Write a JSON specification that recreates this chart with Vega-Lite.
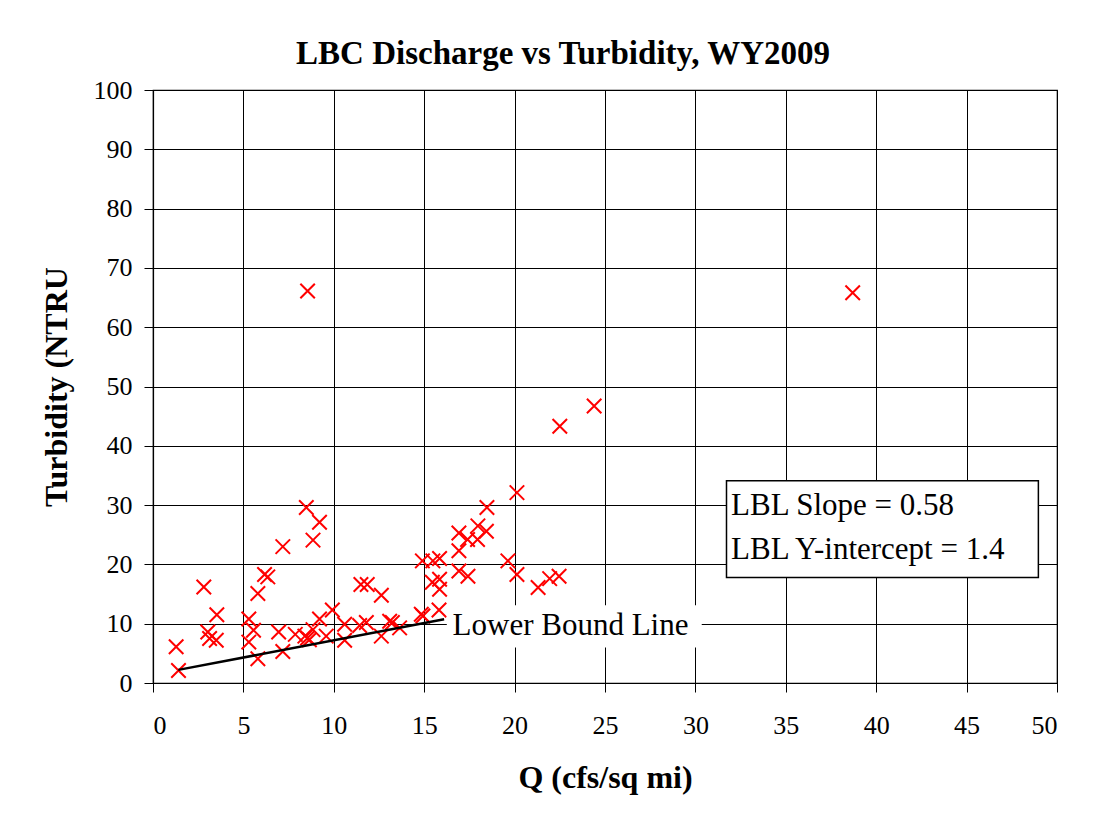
{
  "$schema": "https://vega.github.io/schema/vega-lite/v6.json",
  "autosize": {"type": "none"},
  "width": 904,
  "height": 593,
  "padding": {"left": 153, "top": 90, "right": 54, "bottom": 146},
  "background": "white",
  "config": {
    "font": "Liberation Serif",
    "view": {"stroke": "black", "strokeWidth": 1.2},
    "axis": {
      "domainColor": "black",
      "domainWidth": 1.2,
      "gridColor": "black",
      "gridWidth": 1,
      "gridOpacity": 1,
      "tickColor": "black",
      "tickSize": 9,
      "tickWidth": 1,
      "labelFont": "Liberation Serif",
      "labelFontSize": 26,
      "labelColor": "black",
      "titleFont": "Liberation Serif",
      "titleFontSize": 32,
      "titleFontWeight": "bold",
      "titleColor": "black"
    },
    "axisX": {"labelPadding": 20, "titlePadding": 24},
    "axisY": {"labelPadding": 12, "titlePadding": 20}
  },
  "title": {
    "text": "LBC Discharge vs Turbidity, WY2009",
    "fontSize": 33,
    "fontWeight": "bold",
    "font": "Liberation Serif",
    "color": "black",
    "anchor": "middle",
    "dx": -42,
    "offset": 6
  },
  "datasets": {
    "obs": [
      {"Q": 1.28, "T": 6.1}, {"Q": 1.41, "T": 2.1}, {"Q": 2.81, "T": 16.2}, {"Q": 3.03, "T": 8.6},
      {"Q": 3.13, "T": 7.5}, {"Q": 3.5, "T": 7.2}, {"Q": 3.53, "T": 11.5}, {"Q": 5.3, "T": 10.8},
      {"Q": 5.3, "T": 6.9}, {"Q": 5.56, "T": 8.9}, {"Q": 5.8, "T": 15.1}, {"Q": 5.8, "T": 4.1},
      {"Q": 6.17, "T": 18.3}, {"Q": 6.35, "T": 17.9}, {"Q": 6.95, "T": 8.6}, {"Q": 7.18, "T": 23.0},
      {"Q": 7.18, "T": 5.3}, {"Q": 7.87, "T": 8.2}, {"Q": 8.4, "T": 7.9}, {"Q": 8.55, "T": 7.6},
      {"Q": 8.65, "T": 7.3}, {"Q": 8.48, "T": 29.6}, {"Q": 8.55, "T": 66.1}, {"Q": 8.85, "T": 24.1},
      {"Q": 8.85, "T": 9.0}, {"Q": 9.21, "T": 27.1}, {"Q": 9.21, "T": 10.8}, {"Q": 9.58, "T": 7.9},
      {"Q": 9.92, "T": 12.3}, {"Q": 10.6, "T": 9.9}, {"Q": 10.6, "T": 7.2}, {"Q": 11.43, "T": 9.7},
      {"Q": 11.8, "T": 10.2}, {"Q": 11.5, "T": 16.6}, {"Q": 11.85, "T": 16.6}, {"Q": 12.63, "T": 14.8},
      {"Q": 12.63, "T": 7.9}, {"Q": 13.09, "T": 10.4}, {"Q": 13.24, "T": 10.2}, {"Q": 13.64, "T": 9.3},
      {"Q": 14.84, "T": 11.6}, {"Q": 14.93, "T": 11.3}, {"Q": 14.9, "T": 20.6}, {"Q": 15.48, "T": 20.6},
      {"Q": 15.85, "T": 21.0}, {"Q": 15.45, "T": 17.0}, {"Q": 15.85, "T": 17.5}, {"Q": 15.85, "T": 15.8},
      {"Q": 15.82, "T": 12.3}, {"Q": 16.92, "T": 25.3}, {"Q": 16.92, "T": 22.3}, {"Q": 16.92, "T": 18.9},
      {"Q": 17.4, "T": 24.2}, {"Q": 17.42, "T": 18.0}, {"Q": 17.95, "T": 24.2}, {"Q": 17.97, "T": 26.5},
      {"Q": 18.44, "T": 25.6}, {"Q": 18.47, "T": 29.6}, {"Q": 19.63, "T": 20.6}, {"Q": 20.13, "T": 18.3},
      {"Q": 20.13, "T": 32.1}, {"Q": 21.3, "T": 16.1}, {"Q": 21.94, "T": 17.6}, {"Q": 22.46, "T": 18.0},
      {"Q": 22.5, "T": 43.3}, {"Q": 24.4, "T": 46.7}, {"Q": 38.7, "T": 65.8}
    ],
    "lbl": [
      {"Q": 1.4, "T": 2.21},
      {"Q": 16.1, "T": 10.74}
    ],
    "labelBox": [
      {"Q": 16.25, "Q2": 30.35, "T": 6.0, "T2": 13.1}
    ],
    "labelText": [
      {"Q": 16.57, "T": 9.6, "text": "Lower Bound Line"}
    ],
    "legendBox": [
      {"Q": 31.72, "Q2": 48.97, "T": 17.77, "T2": 34.09}
    ],
    "legendText": [
      {"Q": 31.97, "T": 29.8, "text": "LBL Slope = 0.58"},
      {"Q": 31.97, "T": 22.4, "text": "LBL Y-intercept = 1.4"}
    ]
  },
  "encoding": {
    "x": {
      "field": "Q",
      "type": "quantitative",
      "scale": {"domain": [0, 50], "nice": false, "zero": false},
      "axis": {"values": [0, 5, 10, 15, 20, 25, 30, 35, 40, 45, 50], "title": "Q (cfs/sq mi)"}
    },
    "y": {
      "field": "T",
      "type": "quantitative",
      "scale": {"domain": [0, 100], "nice": false, "zero": false},
      "axis": {"values": [0, 10, 20, 30, 40, 50, 60, 70, 80, 90, 100], "title": "Turbidity (NTRU"}
    }
  },
  "layer": [
    {
      "data": {"name": "obs"},
      "mark": {
        "type": "point",
        "shape": "M-1,-1L1,1M-1,1L1,-1",
        "size": 210,
        "filled": false,
        "color": "#ff0000",
        "strokeWidth": 2,
        "opacity": 1
      }
    },
    {
      "data": {"name": "lbl"},
      "mark": {"type": "line", "color": "black", "strokeWidth": 2.5}
    },
    {
      "data": {"name": "labelBox"},
      "mark": {"type": "rect", "fill": "white", "stroke": null},
      "encoding": {
        "x2": {"field": "Q2"},
        "y2": {"field": "T2"}
      }
    },
    {
      "data": {"name": "labelText"},
      "mark": {"type": "text", "align": "left", "baseline": "middle", "fontSize": 31, "font": "Liberation Serif", "color": "black"},
      "encoding": {"text": {"field": "text"}}
    },
    {
      "data": {"name": "legendBox"},
      "mark": {"type": "rect", "fill": "white", "stroke": "black", "strokeWidth": 1.5},
      "encoding": {
        "x2": {"field": "Q2"},
        "y2": {"field": "T2"}
      }
    },
    {
      "data": {"name": "legendText"},
      "mark": {"type": "text", "align": "left", "baseline": "middle", "fontSize": 31, "font": "Liberation Serif", "color": "black"},
      "encoding": {"text": {"field": "text"}}
    }
  ]
}
